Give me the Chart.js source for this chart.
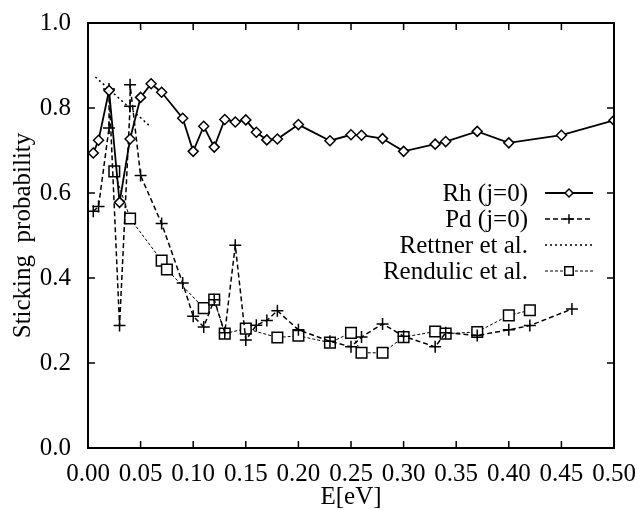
<!DOCTYPE html>
<html>
<head>
<meta charset="utf-8">
<script src="https://cdn.jsdelivr.net/npm/chart.js@4"></script>
<style>
  html, body { margin: 0; padding: 0; background: #fff; }
  #wrap { width: 637px; height: 510px; }
</style>
</head>
<body>
<div id="wrap"><canvas id="mainChart" width="637" height="510"></canvas></div>
<script>
// Rh (j=0)
const rhE = [0.005, 0.01, 0.02, 0.03, 0.04, 0.05, 0.06, 0.07, 0.09, 0.10, 0.11, 0.12, 0.13, 0.14, 0.15,
             0.16, 0.17, 0.18, 0.20, 0.23, 0.25, 0.26, 0.28, 0.30, 0.33, 0.34, 0.37, 0.40, 0.45, 0.50];
const rhS = [0.694, 0.724, 0.841, 0.578, 0.727, 0.825, 0.857, 0.837, 0.776, 0.698, 0.757, 0.708, 0.773, 0.767, 0.772,
             0.743, 0.725, 0.727, 0.761, 0.723, 0.737, 0.736, 0.728, 0.698, 0.715, 0.721, 0.745, 0.718, 0.736, 0.771];

// Pd (j=0)
const pdE = [0.005, 0.01, 0.02, 0.02, 0.03, 0.04, 0.04, 0.05, 0.07, 0.09, 0.10, 0.11, 0.12, 0.13, 0.14, 0.15,
             0.16, 0.17, 0.18, 0.20, 0.23, 0.25, 0.26, 0.28, 0.30, 0.33, 0.34, 0.37, 0.40, 0.42, 0.46];
const pdS = [0.557, 0.568, 0.753, 0.845, 0.288, 0.804, 0.855, 0.641, 0.528, 0.388, 0.310, 0.285, 0.349, 0.271, 0.477, 0.254,
             0.289, 0.300, 0.323, 0.278, 0.251, 0.238, 0.261, 0.292, 0.263, 0.238, 0.271, 0.265, 0.278, 0.288, 0.327];

// Rettner et al.
const rettnerE = [0.007, 0.059];
const rettnerS = [0.873, 0.757];

// Rendulic et al.
const rendE = [0.025, 0.04, 0.07, 0.075, 0.11, 0.12, 0.13, 0.15, 0.18, 0.20, 0.23, 0.25, 0.26, 0.28,
               0.30, 0.33, 0.34, 0.37, 0.40, 0.42];
const rendS = [0.651, 0.540, 0.441, 0.420, 0.329, 0.349, 0.269, 0.281, 0.260, 0.264, 0.248, 0.271, 0.224, 0.224,
               0.261, 0.274, 0.269, 0.273, 0.312, 0.324];

const xTicks = [0, 0.05, 0.10, 0.15, 0.20, 0.25, 0.30, 0.35, 0.40, 0.45, 0.50];
const yTicks = [0, 0.2, 0.4, 0.6, 0.8, 1.0];

const serif = '"Liberation Serif", "DejaVu Serif", serif';
const pts = (xs, ys) => xs.map((x, i) => ({ x: x, y: ys[i] }));

// box round the plot area
const frame = {
    id: 'frame',
    afterDraw(c) {
        const a = c.chartArea, ctx = c.ctx;
        ctx.save();
        ctx.strokeStyle = '#000';
        ctx.lineWidth = 2;
        ctx.strokeRect(a.left, a.top, a.right - a.left, a.bottom - a.top);
        // inward ticks on all four sides
        ctx.lineWidth = 1.5;
        const len = 7;
        c.scales.x.ticks.forEach(t => {
            const px = c.scales.x.getPixelForValue(t.value);
            ctx.beginPath();
            ctx.moveTo(px, a.bottom); ctx.lineTo(px, a.bottom - len);
            ctx.moveTo(px, a.top); ctx.lineTo(px, a.top + len);
            ctx.stroke();
        });
        c.scales.y.ticks.forEach(t => {
            const py = c.scales.y.getPixelForValue(t.value);
            ctx.beginPath();
            ctx.moveTo(a.left, py); ctx.lineTo(a.left + len, py);
            ctx.moveTo(a.right, py); ctx.lineTo(a.right - len, py);
            ctx.stroke();
        });
        ctx.restore();
    }
};

// gnuplot style key: text right aligned, sample to the right
const key = {
    id: 'key',
    afterDatasetsDraw(c) {
        const ctx = c.ctx;
        const textRight = 528, x0 = 545, x1 = 593;
        let y = 193;
        ctx.save();
        ctx.font = '25px ' + serif;
        ctx.textAlign = 'right';
        ctx.textBaseline = 'middle';
        c.data.datasets.forEach(ds => {
            ctx.fillStyle = '#000';
            ctx.fillText(ds.label, textRight, y + 1);
            ctx.strokeStyle = ds.borderColor;
            ctx.lineWidth = ds.borderWidth;
            ctx.setLineDash(ds.borderDash || []);
            ctx.beginPath();
            ctx.moveTo(x0, y); ctx.lineTo(x1, y);
            ctx.stroke();
            ctx.setLineDash([]);
            if (ds.pointRadius > 0) {
                ctx.lineWidth = ds.pointBorderWidth;
                ctx.fillStyle = ds.pointBackgroundColor;
                ctx.strokeStyle = ds.pointBorderColor;
                Chart.helpers.drawPoint(ctx, { pointStyle: ds.pointStyle, radius: ds.pointRadius * 0.8, borderWidth: ds.pointBorderWidth }, (x0 + x1) / 2, y);
            }
            y += 26;
        });
        ctx.restore();
    }
};

const ctx = document.getElementById('mainChart').getContext('2d');
const chart = new Chart(ctx, {
    type: 'line',
    data: {
        datasets: [
            {
                label: 'Rh (j=0)',
                data: pts(rhE, rhS),
                borderColor: '#000', borderWidth: 1.8,
                pointStyle: 'rectRot', pointRadius: 5,
                pointBackgroundColor: '#fff', pointBorderColor: '#000', pointBorderWidth: 1.5
            },
            {
                label: 'Pd (j=0)',
                data: pts(pdE, pdS),
                borderColor: '#000', borderWidth: 1.5, borderDash: [5, 3],
                pointStyle: 'cross', pointRadius: 6,
                pointBackgroundColor: '#fff', pointBorderColor: '#000', pointBorderWidth: 1.5
            },
            {
                label: 'Rettner et al.',
                data: pts(rettnerE, rettnerS),
                borderColor: '#000', borderWidth: 1.5, borderDash: [2, 3],
                pointRadius: 0
            },
            {
                label: 'Rendulic et al.',
                data: pts(rendE, rendS),
                borderColor: '#000', borderWidth: 1, borderDash: [3, 2],
                pointStyle: 'rect', pointRadius: 7.5,
                pointBackgroundColor: '#fff', pointBorderColor: '#000', pointBorderWidth: 1.5
            }
        ]
    },
    options: {
        responsive: false,
        animation: false,
        layout: { padding: { top: 23, right: 23, left: 0, bottom: 0 } },
        scales: {
            x: {
                type: 'linear', min: 0, max: 0.5,
                afterBuildTicks: s => { s.ticks = xTicks.map(v => ({ value: v })); },
                afterFit: s => { s.height = 62; s.paddingLeft = 0; s.paddingRight = 0; },
                grid: { display: false, drawTicks: false },
                border: { display: false },
                ticks: {
                    color: '#000', padding: 11, maxRotation: 0, autoSkip: false,
                    font: { family: serif, size: 25 },
                    callback: v => v.toFixed(2)
                },
                title: {
                    display: true, text: 'E[eV]', color: '#000',
                    font: { family: serif, size: 25, lineHeight: 1 },
                    padding: { top: 0, bottom: 0 }
                }
            },
            y: {
                type: 'linear', min: 0, max: 1,
                afterBuildTicks: s => { s.ticks = yTicks.map(v => ({ value: v })); },
                afterFit: s => { s.width = 88; s.paddingTop = 0; s.paddingBottom = 0; },
                grid: { display: false, drawTicks: false },
                border: { display: false },
                ticks: {
                    color: '#000', padding: 17,
                    font: { family: serif, size: 25 },
                    callback: v => v.toFixed(1)
                },
                title: {
                    display: true, text: 'Sticking  probability', color: '#000',
                    font: { family: serif, size: 25, lineHeight: 1.2 },
                    padding: { top: 8, bottom: 0 }
                }
            }
        },
        plugins: {
            legend: { display: false },
            tooltip: { enabled: false }
        }
    },
    plugins: [frame, key]
});
</script>
</body>
</html>
